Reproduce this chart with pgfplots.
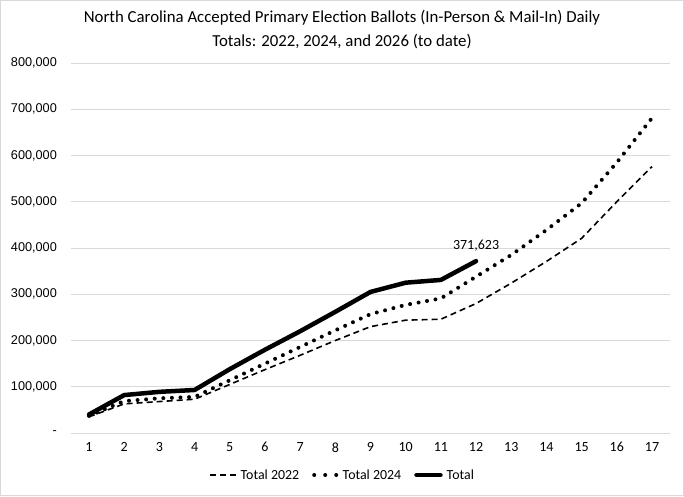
\documentclass[border=0pt]{standalone}
\usepackage{pgfplots}
\pgfplotsset{compat=1.18}
\usepackage{fontspec}
\setmainfont{Carlito}
\newfontfamily\arialfont{Liberation Sans}
\definecolor{gridgray}{RGB}{217,217,217}
\pgfplotsset{
  dotlegend/.style={legend image code/.code={\draw[##1, dash pattern=on 0pt off 11pt] (2pt,0pt) -- (24.5pt,0pt);}},
  solidlegend/.style={legend image code/.code={\draw[##1] (2pt,0pt) -- (26pt,0pt);}},
}
\begin{document}
\begin{tikzpicture}[x=1pt,y=1pt]
\draw[gridgray, line width=1pt] (0.5,0.5) rectangle (683.5,495.5);
\node[align=center, font=\fontsize{16.8}{24}\selectfont] at (342,466) {North Carolina Accepted Primary Election Ballots (In-Person \& Mail-In) Daily\\Totals: 2022, 2024, and 2026 (to date)};
\begin{axis}[
  at={(71.4pt,63pt)}, anchor=south west,
  scale only axis, width=598.2pt, height=370pt,
  xmin=0.5, xmax=17.5, ymin=0, ymax=800000,
  xtick={1,...,17},
  scaled y ticks=false,
  ytick={0,100000,200000,300000,400000,500000,600000,700000,800000},
  yticklabels={{-},{100,000},{200,000},{300,000},{400,000},{500,000},{600,000},{700,000},{800,000}},
  /pgf/number format/assume math mode=true,
  xticklabel style={font=\fontsize{14}{16}\selectfont, yshift=-6pt},
  yticklabel style={font=\arialfont\fontsize{12.7}{15}\selectfont, xshift=-11pt},
  major tick length=0pt,
  axis line style={draw=none},
  ymajorgrids, grid style={gridgray, line width=1pt},
  legend style={draw=none, fill=none, at={(0.4524,-0.1135)}, anchor=center, legend columns=-1,
    font=\fontsize{13.9}{16}\selectfont,
    /tikz/every even column/.append style={column sep=12pt},
    /tikz/every odd column/.append style={column sep=3pt},
    nodes={inner xsep=1pt}},
  legend image code/.code={\draw[#1] (0pt,0pt) -- (26pt,0pt);},
  clip=false,
]
\addplot[black, line width=1.6pt, dash pattern=on 6pt off 4pt] coordinates {
(1,35000) (2,63000) (3,68000) (4,73000) (5,105000) (6,137000) (7,168000) (8,200000) (9,230000) (10,244000) (11,246000) (12,280000) (13,324000) (14,371000) (15,421000) (16,500000) (17,576000)};
\addlegendentry{Total 2022}
\addplot[black, line width=4pt, line cap=round, dash pattern=on 0pt off 8.6pt, dotlegend] coordinates {
(1,37000) (2,69000) (3,75000) (4,78000) (5,114000) (6,150000) (7,186000) (8,222000) (9,257000) (10,277000) (11,291000) (12,338000) (13,385000) (14,439000) (15,497000) (16,585000) (17,681000)};
\addlegendentry{Total 2024}
\addplot[black, line width=4.5pt, line cap=round, solidlegend] coordinates {
(1,40000) (2,82000) (3,89000) (4,93000) (5,138000) (6,180000) (7,220000) (8,262000) (9,305000) (10,325000) (11,331000) (12,371623)};
\addlegendentry{Total}
\node[font=\fontsize{14}{16}\selectfont] at (axis cs:12,404000) {371,623};
\end{axis}
\end{tikzpicture}
\end{document}
